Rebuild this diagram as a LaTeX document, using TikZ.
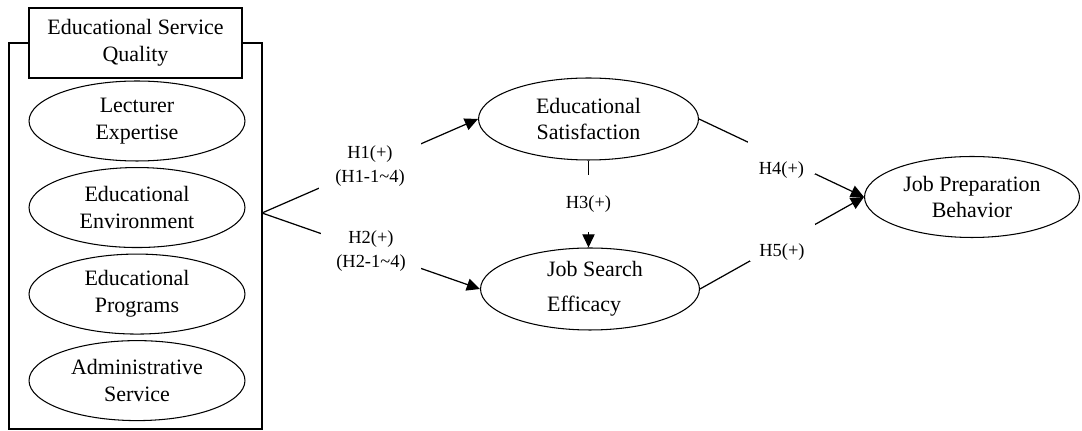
\documentclass[tikz,border=0pt]{standalone}
\usepackage{fontspec}
\setmainfont{Liberation Serif}
\usetikzlibrary{shapes,arrows.meta,positioning,calc}

\begin{document}
\begin{tikzpicture}[x=0.02cm, y=-0.02cm,
    font=\fontsize{12.5}{15.3}\selectfont,
    construct/.style={ellipse, draw, line width=0.6pt, inner sep=0pt, minimum width=4.32cm, minimum height=1.6cm, align=center},
    hyp/.style={draw, line width=0.7pt, -{Triangle[length=7.5pt,width=7pt]}},
    hlabel/.style={fill=white, inner sep=0pt, align=center, font=\fontsize{10.5}{13.6}\selectfont}]
    \useasboundingbox (0,0) rectangle (1082,431);

    % service quality group
    \node (group) [rectangle, draw, line width=0.7pt, inner sep=0pt, minimum width=5.06cm, minimum height=7.72cm] at (135.5,236) {};
    \node (esq) [rectangle, draw, fill=white, line width=0.7pt, inner sep=0pt, minimum width=4.26cm, minimum height=1.4cm, align=center] at (135.5,43) {Educational Service\\Quality};
    \node (lect) [construct] at (137,121) {Lecturer\\Expertise};
    \node (env) [construct, below=0.11cm of lect] {Educational\\Environment};
    \node (prog) [construct, below=0.11cm of env] {Educational\\Programs};
    \node (admin) [construct, below=0.11cm of prog] {Administrative\\Service};

    % mediators and outcome
    \node (edusat) [construct, minimum width=4.4cm, minimum height=1.64cm] at (588.5,119) {Educational\\Satisfaction};
    \node (jse) [construct, minimum width=4.38cm, minimum height=1.64cm, align=left] at (590,289) {\hspace*{0.2cm}Job Search\\[4.5pt]\hspace*{0.2cm}Efficacy};
    \node (jpb) [construct, minimum width=4.3cm, minimum height=1.62cm] at (972,197) {Job Preparation\\Behavior};

    \coordinate (fork) at (262,213);

    \draw [hyp] (fork) -- node[hlabel, minimum width=2.06cm, minimum height=0.95cm] {H1(+)\\(H1-1\textasciitilde4)} (edusat.west);
    \draw [hyp] (fork) -- node[hlabel, minimum width=2.02cm, minimum height=0.8cm] {H2(+)\\(H2-1\textasciitilde4)} (jse.west);
    \draw [hyp] (edusat.south) -- node[hlabel, minimum height=1.14cm] {H3(+)} (edusat.south |- jse.north);
    \draw [hyp] (edusat.east) -- node[hlabel, minimum width=1.34cm, text height=0.66cm, text depth=0pt] {H4(+)} (jpb.west);
    \draw [hyp] (jse.east) -- node[hlabel, minimum width=1.3cm, minimum height=0.74cm, text height=0.54cm, text depth=0pt] {H5(+)} (jpb.west);
\end{tikzpicture}
\end{document}
